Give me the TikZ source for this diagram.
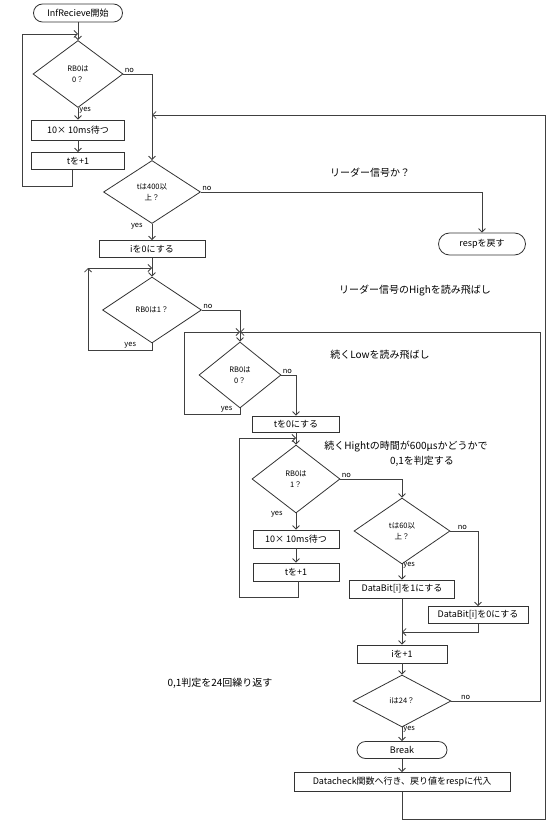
\documentclass[tikz,border=0pt]{standalone}
\usepackage{fontspec}
\setmainfont{Noto Sans CJK JP}
\usepackage{tikz}
\usetikzlibrary{arrows.meta,shapes.geometric}

\begin{document}
\begin{tikzpicture}[x=1pt,y=-1pt,
    line/.style={draw=black!75,line width=0.8pt},
    arr/.style={line,-{Straight Barb[length=3.5pt,width=7pt]}},
    proc/.style={draw=black!80,line width=0.8pt,rectangle,inner sep=0pt,font=\fontsize{9}{10}\selectfont},
    term/.style={proc,rounded corners=9pt},
    cond/.style={draw=black!80,line width=0.8pt,diamond,inner sep=0pt,align=center,font=\fontsize{7.5}{11}\selectfont},
    lbl/.style={font=\fontsize{7.5}{8}\selectfont,inner sep=1pt},
    note/.style={font=\fontsize{10}{12}\selectfont}]
\useasboundingbox (0,0) rectangle (550,826);

% Wait for the start
\node[term,minimum width=89pt,minimum height=18pt] (start) at (78,13) {InfRecieve開始};
\node[cond,minimum width=90pt,minimum height=67pt] (rb0a) at (78,74) {RB0は\\0？};
\node[proc,minimum width=93pt,minimum height=20pt] (waitA) at (78,130) {10× 10ms待つ};
\node[proc,minimum width=93pt,minimum height=17pt] (incA) at (78,161) {tを+1};

% Leader signal
\node[cond,minimum width=97pt,minimum height=63pt] (t400) at (152,192) {tは400以\\上？};
\node[term,minimum width=87pt,minimum height=22pt,rounded corners=11pt] (resp) at (482,244) {respを戻す};
\node[proc,minimum width=106pt,minimum height=17pt] (iZero) at (152,249) {iを0にする};
\node[cond,minimum width=99pt,minimum height=66pt] (rb0b) at (152,310) {RB0は1？};
\node[cond,minimum width=82pt,minimum height=66pt] (rb0c) at (240,375) {RB0は\\0？};
\node[proc,minimum width=87pt,minimum height=16pt] (tZero) at (296,424) {tを0にする};

% Data bits
\node[cond,minimum width=88pt,minimum height=68pt] (rb0d) at (296,479) {RB0は\\1？};
\node[proc,minimum width=86pt,minimum height=18pt] (waitB) at (296,539) {10× 10ms待つ};
\node[proc,minimum width=86pt,minimum height=18pt] (incB) at (296,572) {tを+1};
\node[cond,minimum width=96pt,minimum height=66pt] (t60) at (402,531) {tは60以\\上？};
\node[proc,minimum width=105pt,minimum height=18pt] (bit1) at (402,589) {DataBit[i]を1にする};
\node[proc,minimum width=100pt,minimum height=17pt] (bit0) at (478,615) {DataBit[i]を0にする};
\node[proc,minimum width=90pt,minimum height=18pt] (incI) at (402,654) {iを+1};
\node[cond,minimum width=98pt,minimum height=52pt] (i24) at (402,701) {iは24？};
\node[term,minimum width=90pt,minimum height=17pt,rounded corners=8.5pt] (brk) at (402,750) {Break};
\node[proc,minimum width=216pt,minimum height=19pt] (check) at (402,782) {Datacheck関数へ行き、戻り値をrespに代入};

% Notes
\node[note] (leader) at (370,173) {リーダー信号か？};
\node[note] (skipHigh) at (415,291) {リーダー信号のHighを読み飛ばし};
\node[note] (skipLow) at (380,355) {続くLowを読み飛ばし};
\node[note] (judgeA) at (406,447) {続くHightの時間が600μsかどうかで};
\node[note] (judgeB) at (422,461) {0,1を判定する};
\node[note] (repeat) at (220,683) {0,1判定を24回繰り返す};

% Joints
\coordinate (jA) at (78,34);
\coordinate (jB) at (152,268);
\coordinate (cB) at (88,268);
\coordinate (jC) at (240,332);
\coordinate (jD) at (296,438);
\coordinate (jE) at (402,632);
\coordinate (jF) at (152,115);
\coordinate (rightA) at (540,332);
\coordinate (rightB) at (545,115);

% Connectors
\draw[arr] (start) -- (rb0a);
\draw[arr] (rb0a) -- node[lbl,pos=0.2,anchor=west]{yes} (waitA);
\draw[arr] (waitA) -- (incA);
\draw[arr] ([xshift=-6pt]incA.south) |- (22,186) |- (jA);
\draw[arr] (rb0a.east) -| node[lbl,pos=0,anchor=south west]{no} (t400.north);
\draw[arr] (t400.east) -| node[lbl,pos=0,anchor=south west]{no} (resp.north);
\draw[arr] (t400) -- node[lbl,pos=0.15,left=8pt]{yes} (iZero);
\draw[arr] (iZero) -- (rb0b);
\draw[arr] (rb0b.south) |- node[lbl,pos=0.67,above]{yes} (88,350) -- (cB);
\draw[arr] (cB) -- (jB);
\draw[arr] (rb0b.east) -| node[lbl,pos=0,anchor=south west]{no} (rb0c.north);
\draw[arr] (rb0c.south) |- node[lbl,pos=0.62,above]{yes} (184,414) |- (jC);
\draw[arr] (rb0c.east) -| node[lbl,pos=0,anchor=south west]{no} (tZero.north);
\draw[arr] (tZero) -- (rb0d);
\draw[arr] (rb0d) -- node[lbl,pos=0.05,left=12pt]{yes} (waitB);
\draw[arr] (waitB) -- (incB);
\draw[arr] ([xshift=2pt]incB.south) |- (239,597) |- (jD);
\draw[arr] (rb0d.east) -| node[lbl,pos=0,anchor=south west]{no} (t60.north);
\draw[arr] (t60) -- node[lbl,pos=0.05,anchor=west]{yes} (bit1);
\draw[arr] (t60.east) -| node[lbl,pos=0,anchor=south west,xshift=6pt]{no} (bit0.north);
\draw[arr] (bit1) -- (incI);
\draw[arr] (bit0.south) |- (jE);
\draw[arr] (incI) -- (i24);
\draw[arr] (i24) -- node[lbl,pos=0.15,anchor=west]{yes} (brk);
\draw[arr] (i24.east) -| node[lbl,pos=0.08,above]{no} (rightA) -- (jC);
\draw[arr] (brk) -- (check);
\draw[arr] (check.south) -- ++(0,27) -| (rightB) -- (jF);
\end{tikzpicture}
\end{document}
